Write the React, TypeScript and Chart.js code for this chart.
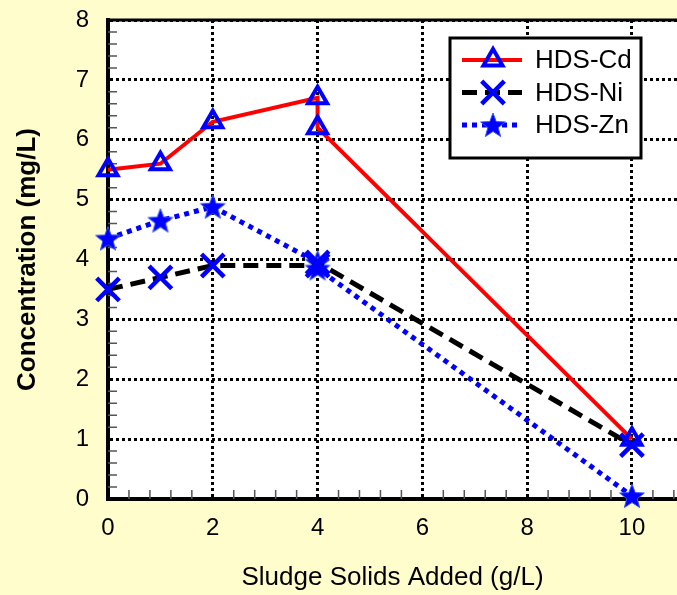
import React, { useEffect, useRef } from 'react';
import { Chart, registerables } from 'chart.js';
import { drawPoint } from 'chart.js/helpers';

Chart.register(...registerables);

// ---- data ----
const seriesLabels = ['HDS-Cd', 'HDS-Ni', 'HDS-Zn'];
const xCd = [0, 1, 2, 4, 4, 10];
const yCd = [5.5, 5.6, 6.3, 6.7, 6.2, 1.0];
const xNi = [0, 1, 2, 4, 4, 10];
const yNi = [3.5, 3.7, 3.9, 3.9, 3.95, 0.9];
const xZn = [0, 1, 2, 4, 4, 10];
const yZn = [4.35, 4.65, 4.88, 3.95, 3.85, 0.05];
const xTickValues = [0, 2, 4, 6, 8, 10];
const yTickValues = [0, 1, 2, 3, 4, 5, 6, 7, 8];
const xTitle = 'Sludge Solids Added (g/L)';
const yTitle = 'Concentration (mg/L)';

const FONT = "'Liberation Sans', Arial, Helvetica, sans-serif";
const BG = '#FFFDCC';

function makeStar(size: number, color: string) {
  const c = document.createElement('canvas');
  c.width = size;
  c.height = size;
  const g = c.getContext('2d')!;
  const cx = size / 2;
  const cy = size / 2 + 1;
  const R = size / 2 - 1;
  const r = R * 0.42;
  g.beginPath();
  for (let i = 0; i < 10; i++) {
    const a = -Math.PI / 2 + (i * Math.PI) / 5;
    const rad = i % 2 === 0 ? R : r;
    g.lineTo(cx + rad * Math.cos(a), cy + rad * Math.sin(a));
  }
  g.closePath();
  g.fillStyle = color;
  g.fill();
  g.strokeStyle = '#3355ff';
  g.lineWidth = 1;
  g.stroke();
  return c;
}

const bgPlugin = {
  id: 'plotBg',
  beforeDraw(chart: any) {
    const { ctx, chartArea: a } = chart;
    ctx.save();
    ctx.fillStyle = '#ffffff';
    ctx.fillRect(a.left, a.top, a.right - a.left, a.bottom - a.top);
    ctx.restore();
  },
};

const minorPlugin = {
  id: 'minorTicks',
  beforeDatasetsDraw(chart: any) {
    const { ctx, chartArea: a, scales } = chart;
    const xs = scales.x;
    const ys = scales.y;
    ctx.save();
    ctx.strokeStyle = '#555555';
    ctx.lineWidth = 1.5;
    ctx.beginPath();
    for (let i = 1; i < 40; i++) {
      if (i % 5 === 0) continue;
      const py = ys.getPixelForValue(i * 0.2);
      ctx.moveTo(a.left, py);
      ctx.lineTo(a.left + 9, py);
    }
    for (let i = 1; i < 40; i++) {
      if (i % 5 === 0) continue;
      const v = i * 0.4;
      if (v > xs.max) break;
      const px = xs.getPixelForValue(v);
      ctx.moveTo(px, a.bottom);
      ctx.lineTo(px, a.bottom - 9);
    }
    ctx.stroke();
    ctx.strokeStyle = '#000000';
    ctx.lineWidth = 3;
    ctx.beginPath();
    ctx.moveTo(a.left, a.top);
    ctx.lineTo(a.right, a.top);
    ctx.stroke();
    ctx.restore();
  },
};

const legendPlugin = {
  id: 'boxLegend',
  afterDraw(chart: any) {
    const { ctx, chartArea: a } = chart;
    const w = 191;
    const h = 120;
    const x0 = a.right - 36 - w;
    const y0 = a.top + 18;
    ctx.save();
    ctx.fillStyle = '#ffffff';
    ctx.fillRect(x0, y0, w, h);
    ctx.strokeStyle = '#000000';
    ctx.lineWidth = 3;
    ctx.strokeRect(x0, y0, w, h);
    chart.data.datasets.forEach((ds: any, i: number) => {
      const cy = y0 + 22 + i * 32.5;
      ctx.save();
      ctx.strokeStyle = ds.borderColor;
      ctx.lineWidth = ds.borderWidth;
      ctx.setLineDash(ds.borderDash || []);
      ctx.beginPath();
      ctx.moveTo(x0 + 12, cy);
      ctx.lineTo(x0 + 72, cy);
      ctx.stroke();
      ctx.restore();
      const mx = x0 + 43;
      if (typeof ds.pointStyle === 'string') {
        ctx.save();
        ctx.strokeStyle = ds.pointBorderColor;
        ctx.fillStyle = ds.pointBackgroundColor;
        ctx.lineWidth = ds.pointBorderWidth;
        drawPoint(ctx, { pointStyle: ds.pointStyle, radius: ds.pointRadius, borderWidth: ds.pointBorderWidth, rotation: 0 } as any, mx, cy);
        ctx.restore();
      } else {
        const img = ds.pointStyle as HTMLCanvasElement;
        ctx.drawImage(img, mx - img.width / 2, cy - img.height / 2);
      }
      ctx.fillStyle = '#000000';
      ctx.font = `26px ${FONT}`;
      ctx.textBaseline = 'middle';
      ctx.textAlign = 'left';
      ctx.fillText(ds.label, x0 + 85, cy + 1);
    });
    ctx.restore();
  },
};

export default function App() {
  const ref = useRef<HTMLCanvasElement>(null);
  useEffect(() => {
    const star = makeStar(28, '#0000ff');
    const mk = (xs: number[], ys: number[]) => xs.map((x, i) => ({ x, y: ys[i] }));
    const chart = new Chart(ref.current!, {
      type: 'line',
      data: {
        datasets: [
          {
            label: seriesLabels[0],
            data: mk(xCd, yCd),
            borderColor: '#ff0000',
            borderWidth: 4,
            pointStyle: 'triangle',
            pointRadius: 11,
            pointBorderColor: '#0000ff',
            pointBackgroundColor: 'rgba(0,0,0,0)',
            pointBorderWidth: 4,
            clip: false as any,
            tension: 0,
          },
          {
            label: seriesLabels[1],
            data: mk(xNi, yNi),
            borderColor: '#000000',
            borderWidth: 5,
            borderDash: [15, 8],
            pointStyle: 'crossRot',
            pointRadius: 16,
            pointBorderColor: '#0000ff',
            pointBackgroundColor: 'rgba(0,0,0,0)',
            pointBorderWidth: 4.5,
            clip: false as any,
            tension: 0,
          },
          {
            label: seriesLabels[2],
            data: mk(xZn, yZn),
            borderColor: '#0000ff',
            borderWidth: 5,
            borderDash: [5, 5],
            pointStyle: star as any,
            pointRadius: 13,
            pointBorderColor: '#0000ff',
            pointBackgroundColor: '#0000ff',
            pointBorderWidth: 1,
            clip: false as any,
            tension: 0,
          },
        ],
      },
      options: {
        animation: false,
        responsive: false,
        events: [],
        layout: { autoPadding: false, padding: { top: 20, right: 0, left: 0, bottom: 0 } },
        plugins: { legend: { display: false }, tooltip: { enabled: false } },
        scales: {
          x: {
            type: 'linear',
            min: 0,
            max: 10.86,
            afterBuildTicks: (s: any) => {
              s.ticks = xTickValues.map((v) => ({ value: v }));
            },
            afterFit: (s: any) => {
              s.height = 96;
              s.paddingLeft = 0;
              s.paddingRight = 0;
            },
            grid: { color: '#000000', lineWidth: 3, drawTicks: false },
            border: { display: true, color: '#000000', width: 4, dash: [3, 3] },
            ticks: { color: '#000000', padding: 15, maxRotation: 0, font: { family: FONT, size: 24 } },
            title: { display: true, text: xTitle, color: '#000000', padding: { top: 0, bottom: 2 }, font: { family: FONT, size: 26 } },
          },
          y: {
            type: 'linear',
            min: 0,
            max: 8,
            afterBuildTicks: (s: any) => {
              s.ticks = yTickValues.map((v) => ({ value: v }));
            },
            afterFit: (s: any) => {
              s.width = 108;
              s.paddingTop = 0;
              s.paddingBottom = 0;
            },
            grid: { color: '#000000', lineWidth: 3, drawTicks: false },
            border: { display: true, color: '#000000', width: 4, dash: [3, 3] },
            ticks: { color: '#000000', padding: 19, font: { family: FONT, size: 24 } },
            title: { display: true, text: yTitle, color: '#000000', padding: { top: 12, bottom: 0 }, font: { family: FONT, size: 26, weight: 'bold' } },
          },
        },
      },
      plugins: [bgPlugin, minorPlugin, legendPlugin],
    } as any);
    return () => chart.destroy();
  }, []);
  return (
    <div style={{ position: 'fixed', left: 0, top: 0, width: 677, height: 595, background: BG }}>
      <canvas ref={ref} width={677} height={595} style={{ display: 'block', width: 677, height: 595 }} />
    </div>
  );
}
